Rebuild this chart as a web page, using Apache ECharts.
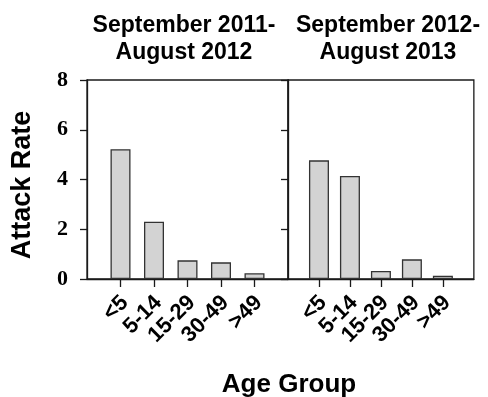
<!DOCTYPE html>
<html>
<head>
<meta charset="utf-8">
<script src="https://cdn.jsdelivr.net/npm/echarts@6/dist/echarts.min.js"></script>
<style>html,body{margin:0;padding:0;background:#fff;}#c{width:488px;height:397px;}</style>
</head>
<body>
<div id="c"></div>
<script>
var categories = ['<5', '5-14', '15-29', '30-49', '>49'];
var rate2011 = [5.22, 2.30, 0.75, 0.67, 0.23];
var rate2012 = [4.77, 4.14, 0.32, 0.79, 0.13];
var yTicks = [0, 2, 4, 6, 8];
var panelTitles = ['September 2011-\nAugust 2012', 'September 2012-\nAugust 2013'];

var axisCats = [' '].concat(categories).concat(['  ']);
function pad(arr) { return ['-'].concat(arr).concat(['-']); }

var chart = echarts.init(document.getElementById('c'), null, {renderer: 'canvas'});
var sans = '"Liberation Sans", Arial, sans-serif';
var serif = '"Liberation Serif", "Times New Roman", serif';
var lineCol = '#1a1a1a';

function xAxis(gi) {
  return {
    type: 'category', gridIndex: gi, data: axisCats, boundaryGap: false,
    axisLine: {lineStyle: {color: lineCol, width: 1.3}},
    axisTick: {length: 8, lineStyle: {color: lineCol, width: 1.3},
      interval: function (i) { return i > 0 && i < axisCats.length - 1; }},
    axisLabel: {interval: 0, rotate: 45, margin: 16, color: '#000',
      verticalAlign: 'top', lineHeight: 12,
      fontFamily: sans, fontWeight: 'bold', fontSize: 22},
    splitLine: {show: false}
  };
}
function yAxis(gi, showLabels) {
  return {
    type: 'value', gridIndex: gi, min: yTicks[0], max: yTicks[yTicks.length - 1], interval: 2,
    axisLine: {show: true, lineStyle: {color: lineCol, width: 1.3}},
    axisTick: {show: true, length: 7, lineStyle: {color: lineCol, width: 1.3}},
    axisLabel: {show: showLabels, margin: 19, color: '#000',
      fontFamily: serif, fontWeight: 'bold', fontSize: 22},
    splitLine: {show: false}
  };
}
function barSeries(gi, vals) {
  return {
    type: 'bar', xAxisIndex: gi, yAxisIndex: gi, data: pad(vals), barWidth: 20,
    itemStyle: {color: '#d3d3d3', borderColor: '#333', borderWidth: 1.3},
    silent: true
  };
}

chart.setOption({
  animation: false,
  backgroundColor: '#fff',
  grid: [
    {left: 87, top: 80, width: 201, height: 199, show: true, borderColor: lineCol, borderWidth: 1.3, containLabel: false},
    {left: 288, top: 80, width: 199, height: 199, show: true, borderColor: lineCol, borderWidth: 1.3, containLabel: false}
  ],
  xAxis: [xAxis(0), xAxis(1)],
  yAxis: [yAxis(0, true), yAxis(1, false)],
  series: [barSeries(0, rate2011), barSeries(1, rate2012)],
  graphic: [
    {type: 'text', x: 184, y: 39, style: {text: panelTitles[0], font: 'bold 23px ' + sans,
      textAlign: 'center', textVerticalAlign: 'middle', lineHeight: 27, fill: '#000'}},
    {type: 'text', x: 388, y: 39, style: {text: panelTitles[1], font: 'bold 23px ' + sans,
      textAlign: 'center', textVerticalAlign: 'middle', lineHeight: 27, fill: '#000'}},
    {type: 'text', x: 23, y: 185, rotation: Math.PI / 2, style: {text: 'Attack Rate', font: 'bold 27px ' + sans,
      textAlign: 'center', textVerticalAlign: 'middle', fill: '#000'}},
    {type: 'text', x: 289, y: 385, style: {text: 'Age Group', font: 'bold 26px ' + sans,
      textAlign: 'center', textVerticalAlign: 'middle', fill: '#000'}}
  ]
});
</script>
</body>
</html>
